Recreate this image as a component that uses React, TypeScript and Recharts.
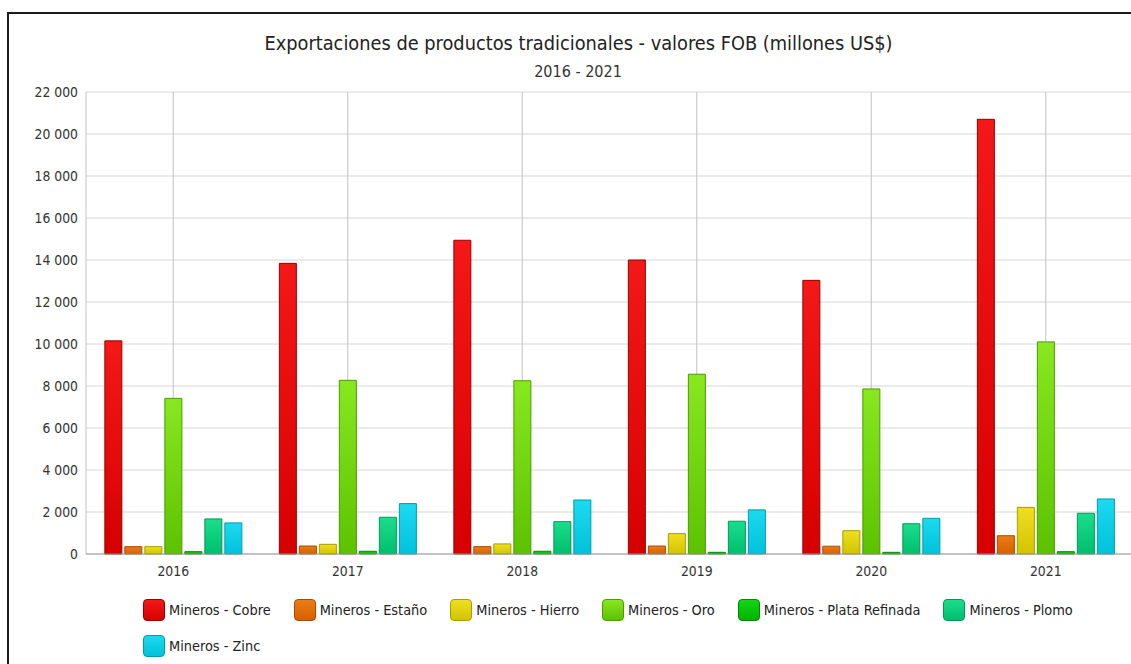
import { BarChart, Bar, XAxis, YAxis, CartesianGrid } from "recharts";

const years = ["2016", "2017", "2018", "2019", "2020", "2021"];

const cobre = [10150, 13840, 14940, 14000, 13030, 20700];
const estano = [350, 380, 350, 380, 370, 870];
const hierro = [350, 460, 480, 970, 1110, 2220];
const oro = [7410, 8270, 8250, 8560, 7860, 10100];
const plata = [110, 130, 130, 80, 80, 110];
const plomo = [1670, 1750, 1540, 1560, 1440, 1940];
const zinc = [1480, 2400, 2570, 2100, 1700, 2620];

const yTicks = [0, 2000, 4000, 6000, 8000, 10000, 12000, 14000, 16000, 18000, 20000, 22000];

const series = [
  { key: "cobre", name: "Mineros - Cobre", values: cobre, light: "#f41818", dark: "#d60000", stroke: "#980000" },
  { key: "estano", name: "Mineros - Estaño", values: estano, light: "#ec7c16", dark: "#d66000", stroke: "#a84a00" },
  { key: "hierro", name: "Mineros - Hierro", values: hierro, light: "#eee020", dark: "#d2c400", stroke: "#a89c00" },
  { key: "oro", name: "Mineros - Oro", values: oro, light: "#88e820", dark: "#5cc200", stroke: "#4a9a00" },
  { key: "plata", name: "Mineros - Plata Refinada", values: plata, light: "#14d614", dark: "#00b400", stroke: "#008a00" },
  { key: "plomo", name: "Mineros - Plomo", values: plomo, light: "#1ade8c", dark: "#00be6e", stroke: "#009858" },
  { key: "zinc", name: "Mineros - Zinc", values: zinc, light: "#1cdaf0", dark: "#00c2da", stroke: "#009aae" },
];

const data = years.map((year, i) => {
  const row: Record<string, string | number> = { year };
  series.forEach((s) => {
    row[s.key] = s.values[i];
  });
  return row;
});

const FONT = "'DejaVu Sans Condensed', 'DejaVu Sans', sans-serif";

const fmt = (v: any) => String(v).replace(/\B(?=(\d{3})+(?!\d))/g, " ");

export default function App() {
  return (
    <div
      style={{
        position: "fixed",
        left: 0,
        top: 0,
        width: 1131,
        height: 664,
        overflow: "hidden",
        background: "#fff",
        fontFamily: FONT,
      }}
    >
      {/* frame: only the left and top edges are inside the picture */}
      <div
        style={{
          position: "absolute",
          left: 7,
          top: 12,
          width: 1200,
          height: 700,
          borderLeft: "2px solid #1c1c1c",
          borderTop: "2px solid #1c1c1c",
        }}
      />
      <div
        style={{
          position: "absolute",
          left: 0,
          width: 1157,
          top: 31,
          textAlign: "center",
          fontSize: 19.8,
          color: "#222",
          lineHeight: "25px",
        }}
      >
        Exportaciones de productos tradicionales - valores FOB (millones US$)
      </div>
      <div
        style={{
          position: "absolute",
          left: 0,
          width: 1156,
          top: 62,
          textAlign: "center",
          fontSize: 16,
          color: "#333",
          lineHeight: "20px",
        }}
      >
        2016 - 2021
      </div>

      <div style={{ position: "absolute", left: 0, top: 0 }}>
        <BarChart
          width={1140}
          height={600}
          data={data}
          margin={{ top: 92, right: 7, bottom: 16, left: 8 }}
          barCategoryGap="10.8%"
          barGap={3}
        >
          <defs>
            {series.map((s) => (
              <linearGradient key={s.key} id={`g-${s.key}`} x1="0" y1="0" x2="0" y2="1">
                <stop offset="0%" stopColor={s.light} />
                <stop offset="100%" stopColor={s.dark} />
              </linearGradient>
            ))}
          </defs>
          <CartesianGrid vertical={false} stroke="#d6d6d6" />
          <CartesianGrid horizontal={false} stroke="#c2c2c2" />
          <XAxis
            dataKey="year"
            height={30}
            tickLine={false}
            axisLine={{ stroke: "#9a9a9a" }}
            tick={{ fontSize: 13.8, fill: "#333", fontFamily: FONT }}
            tickMargin={6}
          />
          <YAxis
            width={78}
            domain={[0, 22000]}
            ticks={yTicks}
            tickFormatter={fmt}
            axisLine={false}
            tickLine={false}
            tick={{ fontSize: 13.8, fill: "#333", fontFamily: FONT }}
            tickMargin={2}
          />
          {series.map((s) => (
            <Bar
              key={s.key}
              dataKey={s.key}
              name={s.name}
              fill={`url(#g-${s.key})`}
              stroke={s.stroke}
              strokeWidth={1}
              isAnimationActive={false}
            />
          ))}
        </BarChart>
      </div>

      {/* legend */}
      <div
        style={{
          position: "absolute",
          left: 143,
          top: 599,
          width: 980,
          display: "flex",
          flexWrap: "wrap",
          columnGap: 23,
          rowGap: 14,
        }}
      >
        {series.map((s) => (
          <div key={s.key} style={{ display: "flex", alignItems: "center", height: 22 }}>
            <div
              style={{
                width: 20,
                height: 20,
                borderRadius: 4,
                border: `1px solid ${s.stroke}`,
                background: `linear-gradient(${s.light}, ${s.dark})`,
              }}
            />
            <span style={{ marginLeft: 4, fontSize: 14.4, color: "#222", whiteSpace: "nowrap" }}>
              {s.name}
            </span>
          </div>
        ))}
      </div>
    </div>
  );
}
